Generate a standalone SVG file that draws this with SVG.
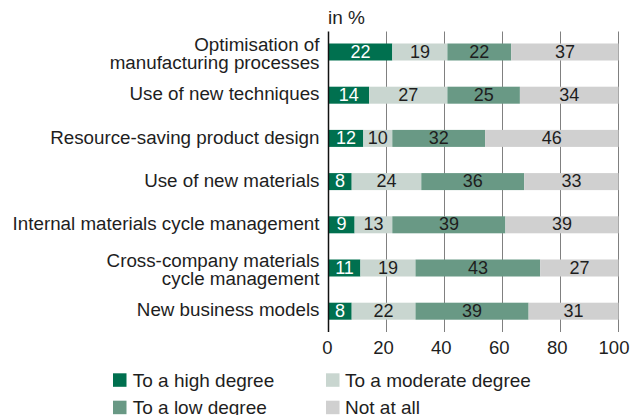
<svg xmlns="http://www.w3.org/2000/svg" width="644" height="415" viewBox="0 0 644 415">
<style>
text{font-family:"Liberation Sans",Arial,sans-serif;fill:#1e1e1e}
.lbl{font-size:18.8px;text-anchor:end}
.num{font-size:18px;text-anchor:middle}
.w{fill:#fff}
.tick{font-size:18.5px;text-anchor:middle}
.leg{font-size:19px}
.hi{fill:#00704f}
.mo{fill:#c9d6d0}
.lo{fill:#699985}
.no{fill:#d0d0d0}
.grid{stroke:#808080;stroke-width:1}
</style>
<rect width="644" height="415" fill="#fff"/>
<g id="grid">
<line class="grid" x1="386.5" y1="31.5" x2="386.5" y2="332"/>
<line class="grid" x1="444.5" y1="31.5" x2="444.5" y2="332"/>
<line class="grid" x1="502.5" y1="31.5" x2="502.5" y2="332"/>
<line class="grid" x1="560.5" y1="31.5" x2="560.5" y2="332"/>
<line class="grid" x1="618.5" y1="31.5" x2="618.5" y2="332"/>
</g>
<text class="leg" x="328" y="24">in %</text>
<g id="row1">
<text class="lbl" x="319.5" y="51">Optimisation of</text>
<text class="lbl" x="319.5" y="69.3">manufacturing processes</text>
<rect class="hi" x="328.5" y="43.5" width="63.8" height="17"/>
<rect class="mo" x="392.3" y="43.5" width="55.1" height="17"/>
<rect class="lo" x="447.4" y="43.5" width="63.8" height="17"/>
<rect class="no" x="511.2" y="43.5" width="107.3" height="17"/>
<text class="num w" x="360.4" y="57.6">22</text>
<text class="num" x="419.9" y="57.6">19</text>
<text class="num" x="479.3" y="57.6">22</text>
<text class="num" x="564.9" y="57.6">37</text>
</g>
<g id="row2">
<text class="lbl" x="319.5" y="100.3">Use of new techniques</text>
<rect class="hi" x="328.5" y="86.7" width="40.6" height="17"/>
<rect class="mo" x="369.1" y="86.7" width="78.3" height="17"/>
<rect class="lo" x="447.4" y="86.7" width="72.5" height="17"/>
<rect class="no" x="519.9" y="86.7" width="98.6" height="17"/>
<text class="num w" x="348.8" y="100.8">14</text>
<text class="num" x="408.3" y="100.8">27</text>
<text class="num" x="483.7" y="100.8">25</text>
<text class="num" x="569.2" y="100.8">34</text>
</g>
<g id="row3">
<text class="lbl" x="319.5" y="143.5">Resource-saving product design</text>
<rect class="hi" x="328.5" y="129.9" width="34.8" height="17"/>
<rect class="mo" x="363.3" y="129.9" width="29" height="17"/>
<rect class="lo" x="392.3" y="129.9" width="92.8" height="17"/>
<rect class="no" x="485.1" y="129.9" width="133.4" height="17"/>
<text class="num w" x="345.9" y="144">12</text>
<text class="num" x="377.8" y="144">10</text>
<text class="num" x="438.7" y="144">32</text>
<text class="num" x="551.8" y="144">46</text>
</g>
<g id="row4">
<text class="lbl" x="319.5" y="186.7">Use of new materials</text>
<rect class="hi" x="328.5" y="173.1" width="23.2" height="17"/>
<rect class="mo" x="351.7" y="173.1" width="69.6" height="17"/>
<rect class="lo" x="421.3" y="173.1" width="102.9" height="17"/>
<rect class="no" x="524.2" y="173.1" width="94.3" height="17"/>
<text class="num w" x="340.1" y="187.2">8</text>
<text class="num" x="386.5" y="187.2">24</text>
<text class="num" x="472.8" y="187.2">36</text>
<text class="num" x="571.4" y="187.2">33</text>
</g>
<g id="row5">
<text class="lbl" x="319.5" y="229.9">Internal materials cycle management</text>
<rect class="hi" x="328.5" y="216.3" width="26.1" height="17"/>
<rect class="mo" x="354.6" y="216.3" width="37.7" height="17"/>
<rect class="lo" x="392.3" y="216.3" width="113.1" height="17"/>
<rect class="no" x="505.4" y="216.3" width="113.1" height="17"/>
<text class="num w" x="341.6" y="230.4">9</text>
<text class="num" x="373.5" y="230.4">13</text>
<text class="num" x="448.9" y="230.4">39</text>
<text class="num" x="562" y="230.4">39</text>
</g>
<g id="row6">
<text class="lbl" x="319.5" y="267">Cross-company materials</text>
<text class="lbl" x="319.5" y="285.3">cycle management</text>
<rect class="hi" x="328.5" y="259.5" width="31.9" height="17"/>
<rect class="mo" x="360.4" y="259.5" width="55.1" height="17"/>
<rect class="lo" x="415.5" y="259.5" width="124.7" height="17"/>
<rect class="no" x="540.2" y="259.5" width="78.3" height="17"/>
<text class="num w" x="344.5" y="273.6">11</text>
<text class="num" x="388" y="273.6">19</text>
<text class="num" x="477.9" y="273.6">43</text>
<text class="num" x="579.4" y="273.6">27</text>
</g>
<g id="row7">
<text class="lbl" x="319.5" y="316.3">New business models</text>
<rect class="hi" x="328.5" y="302.7" width="23.2" height="17"/>
<rect class="mo" x="351.7" y="302.7" width="63.8" height="17"/>
<rect class="lo" x="415.5" y="302.7" width="113.1" height="17"/>
<rect class="no" x="528.6" y="302.7" width="89.9" height="17"/>
<text class="num w" x="340.1" y="316.8">8</text>
<text class="num" x="383.6" y="316.8">22</text>
<text class="num" x="472.1" y="316.8">39</text>
<text class="num" x="573.6" y="316.8">31</text>
</g>
<g id="axis">
<line x1="328.5" y1="31.5" x2="328.5" y2="332" stroke="#111" stroke-width="1.5"/>
<text class="tick" x="327.3" y="353.8">0</text>
<text class="tick" x="383.5" y="353.8">20</text>
<text class="tick" x="441.3" y="353.8">40</text>
<text class="tick" x="499.3" y="353.8">60</text>
<text class="tick" x="557.3" y="353.8">80</text>
<text class="tick" x="614" y="353.8">100</text>
</g>
<g id="legend">
<rect class="hi" x="113" y="373.3" width="13.5" height="13.5"/>
<text class="leg" x="132.7" y="387">To a high degree</text>
<rect class="mo" x="326" y="373.3" width="13.5" height="13.5"/>
<text class="leg" x="345" y="387">To a moderate degree</text>
<rect class="lo" x="113" y="400.7" width="13.5" height="13.5"/>
<text class="leg" x="132.7" y="414">To a low degree</text>
<rect class="no" x="326" y="400.7" width="13.5" height="13.5"/>
<text class="leg" x="345" y="414">Not at all</text>
</g>
</svg>
